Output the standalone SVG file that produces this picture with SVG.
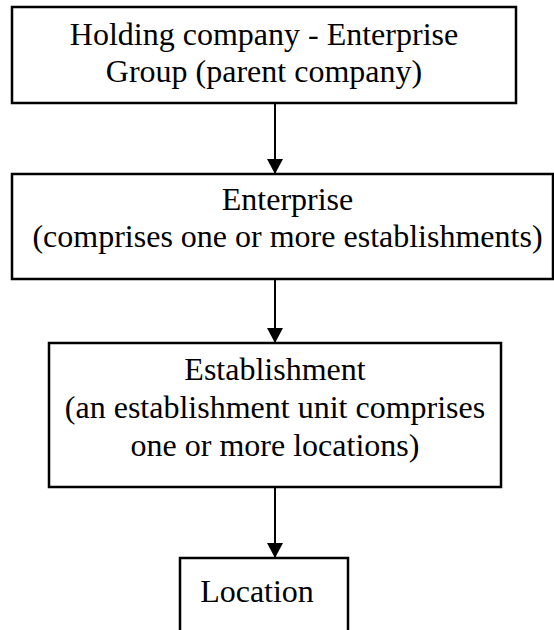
<svg xmlns="http://www.w3.org/2000/svg" width="554" height="630" viewBox="0 0 554 630">
  <defs>
    <marker id="arrow" markerUnits="userSpaceOnUse" markerWidth="16" markerHeight="16" refX="15" refY="8" orient="auto">
      <path d="M0,0 L15,8 L0,16 Z" fill="#000"/>
    </marker>
    <style>
      .box { fill: #fff; stroke: #000; stroke-width: 2.5; }
      .lbl { font-family: "Liberation Serif", "Times New Roman", serif; font-size: 32px; fill: #000; text-anchor: middle; }
      .conn { stroke: #000; stroke-width: 2; fill: none; marker-end: url(#arrow); }
    </style>
  </defs>
  <rect width="554" height="630" fill="#fff"/>
  <g id="connectors">
    <line class="conn" x1="275" y1="103" x2="275" y2="174"/>
    <line class="conn" x1="275" y1="279" x2="275" y2="343"/>
    <line class="conn" x1="275" y1="487" x2="275" y2="558"/>
  </g>
  <g id="holding">
    <rect class="box" x="12" y="7" width="504" height="96"/>
    <text class="lbl" x="264" y="45">Holding company - Enterprise</text>
    <text class="lbl" x="264" y="82">Group (parent company)</text>
  </g>
  <g id="enterprise">
    <rect class="box" x="12" y="174" width="541" height="105"/>
    <text class="lbl" x="287.5" y="210">Enterprise</text>
    <text class="lbl" x="287.5" y="247">(comprises one or more establishments)</text>
  </g>
  <g id="establishment">
    <rect class="box" x="49" y="343" width="452" height="144"/>
    <text class="lbl" x="275" y="380">Establishment</text>
    <text class="lbl" x="275" y="418">(an establishment unit comprises</text>
    <text class="lbl" x="275" y="456">one or more locations)</text>
  </g>
  <g id="location">
    <rect class="box" x="180" y="558" width="168" height="90"/>
    <text class="lbl" x="257" y="602">Location</text>
  </g>
</svg>
